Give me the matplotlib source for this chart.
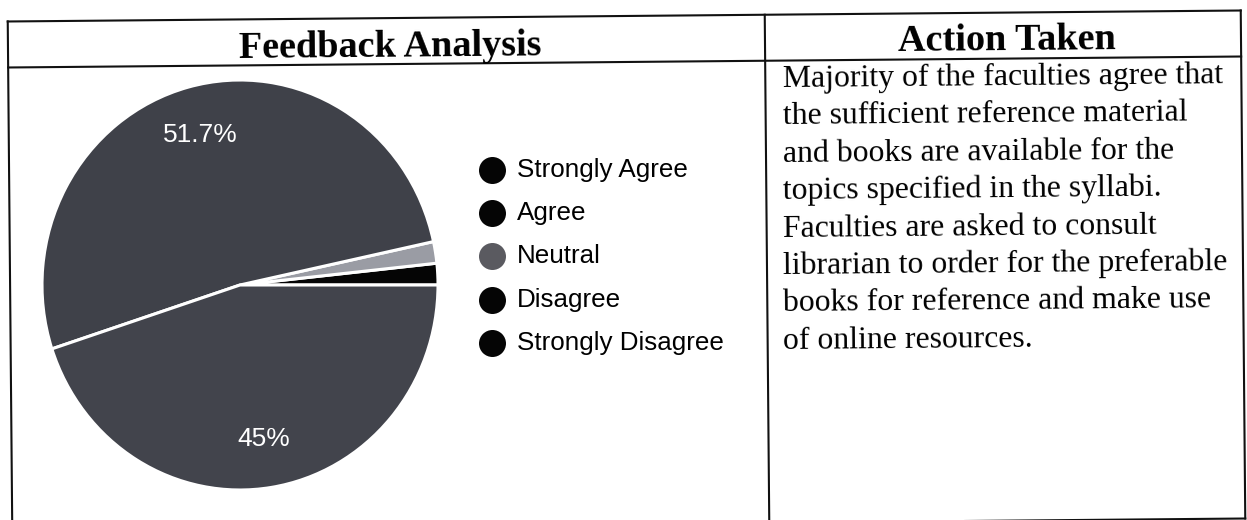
import matplotlib
matplotlib.use("Agg")
import matplotlib.pyplot as plt

# data
categories = ["Strongly Agree", "Agree", "Neutral", "Disagree", "Strongly Disagree"]
percent = [51.7, 45.0, 1.7, 1.7, 0.0]
slice_colors = ["#3f4149", "#42444c", "#9a9ca4", "#050505", "#050505"]
legend_colors = ["#050505", "#050505", "#5a5a60", "#050505", "#050505"]

left_header = "Feedback Analysis"
right_header = "Action Taken"
action_lines = [
    "Majority of the faculties agree that",
    "the sufficient reference material",
    "and books are available for the",
    "topics specified in the syllabi.",
    "Faculties are asked to consult",
    "librarian to order for the preferable",
    "books for reference and make use",
    "of online resources.",
]

W, H = 1247, 520
fig = plt.figure(figsize=(W / 100, H / 100), dpi=100)

# overlay axes in pixel coords for the table
ax = fig.add_axes([0, 0, 1, 1])
ax.set_xlim(0, W)
ax.set_ylim(H, 0)
ax.axis("off")

# the scan is turned a little, so tilt the table lines the same way
s = 0.0089
cx0, cy0 = 626, 270


def tilt(x, y):
    return x + s * (y - cy0), y - s * (x - cx0)


def seg(x1, y1, x2, y2):
    a = tilt(x1, y1)
    b = tilt(x2, y2)
    ax.plot([a[0], b[0]], [a[1], b[1]], color="#111111", lw=1.5,
            solid_capstyle="projecting")


x_left, x_mid, x_right = 10, 767, 1243
y_top, y_head, y_bot = 16, 62, 524
seg(x_left, y_top, x_right, y_top)
seg(x_left, y_head, x_right, y_head)
seg(x_left, y_bot, x_right, y_bot)
for x in (x_left, x_mid, x_right):
    seg(x, y_top, x, y_bot)

ax.text(390, 57, left_header, ha="center", va="baseline", fontsize=27.5,
        fontweight="bold", family="Liberation Serif", rotation=0.5,
        rotation_mode="anchor")
ax.text(1007, 50, right_header, ha="center", va="baseline", fontsize=27.5,
        fontweight="bold", family="Liberation Serif", rotation=0.5,
        rotation_mode="anchor")

for i, line in enumerate(action_lines):
    ax.text(783, 87 + i * 37.4, line, ha="left", va="baseline", fontsize=22.9,
            family="Liberation Serif", rotation=0.5, rotation_mode="anchor")

# legend drawn by hand
for i, (name, col) in enumerate(zip(categories, legend_colors)):
    y = 170 + i * 43.2
    ax.scatter([492], [y], s=378, color=col, zorder=3, linewidths=0)
    ax.text(517, y, name, ha="left", va="center", fontsize=18.7,
            family="Liberation Sans")

# pie chart, wedges drawn counterclockwise from 3 o'clock
pcx, pcy, rx, ry = 240, 285, 198, 205
pax = fig.add_axes([(pcx - rx) / W, (H - pcy - ry) / H, 2 * rx / W, 2 * ry / H])
order = [3, 2, 0, 1]
vals = [percent[i] for i in order]
cols = [slice_colors[i] for i in order]
labels = [f"{percent[i]:g}%" if percent[i] > 5 else "" for i in order]
wedges, texts = pax.pie(vals, colors=cols, labels=labels, labeldistance=0.76,
                        startangle=0, counterclock=True,
                        wedgeprops=dict(edgecolor="white", linewidth=2.2))
for t in texts:
    t.set_color("white")
    t.set_fontsize(19)
    t.set_family("Liberation Sans")
    t.set_ha("center")
    t.set_va("center")
pax.set_xlim(-1, 1)
pax.set_ylim(-1, 1)
pax.set_aspect("auto")

fig.savefig("out.png", dpi=100)
